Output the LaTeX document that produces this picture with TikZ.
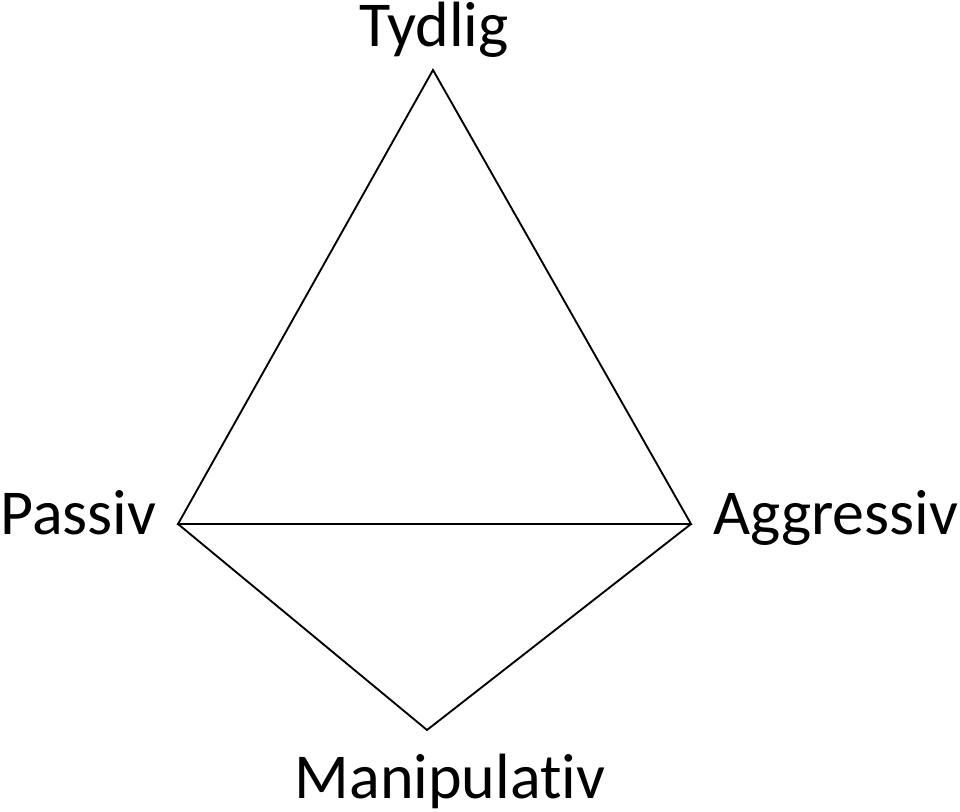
\documentclass[tikz,border=0pt]{standalone}
\usepackage{fontspec}
\setmainfont{Carlito}[Ligatures={NoCommon,NoRare}]
\tikzset{
  lbl/.style={inner sep=0pt, font=\fontsize{48}{56}\selectfont},
  edge/.style={draw=black, line width=1.4pt, line join=miter}
}
\begin{document}
\begin{tikzpicture}[x=0.75pt,y=-0.75pt]
\useasboundingbox (0,0) rectangle (960,812);
\coordinate (T) at (433,70);
\coordinate (P) at (178,524);
\coordinate (A) at (691,524);
\coordinate (M) at (427,730);
\draw[edge] (T) -- (A) -- (P) -- cycle;
\draw[edge] (P) -- (M) -- (A);
\node[lbl, anchor=base] (tl) at (434,47) {Tydlig};
\node[lbl, anchor=base west] (pl) at (0,534) {Passiv};
\node[lbl, anchor=base west] (al) at (713,534) {Aggressiv};
\node[lbl, anchor=base] (ml) at (450,798) {Manipulativ};
\end{tikzpicture}
\end{document}
